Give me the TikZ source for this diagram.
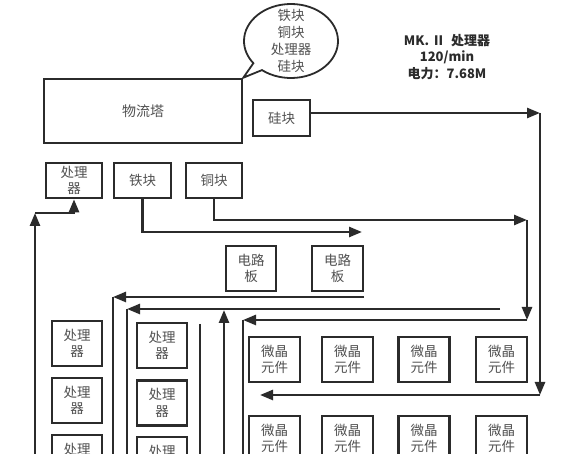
\documentclass[tikz,border=0pt]{standalone}
\usepackage{fontspec}
\setmainfont{Noto Sans CJK SC}
\usetikzlibrary{arrows.meta,shapes.callouts}
\definecolor{ln}{HTML}{2B2B2B}
\definecolor{tx}{HTML}{505050}
\tikzset{
  box/.style={draw=ln, line width=2.6pt, inner sep=0pt, align=center, text=tx,
    font=\fontsize{13.5}{16.5}\selectfont},
  conn/.style={draw=ln, line width=2.5pt},
  arr/.style={conn, -{Triangle[length=13pt,width=10pt]}},
}
\begin{document}
\begin{tikzpicture}[x=1pt,y=-1pt]
\clip (0,0) rectangle (568,454);
\fill[white] (0,0) rectangle (568,454);

% top boxes
\node[box, minimum width=198pt, minimum height=64pt, font=\fontsize{14}{16}\selectfont] (wlt) at (143,111) {物流塔};
\node[box, minimum width=57pt, minimum height=36pt] (gui) at (281.5,118) {硅块};
\node[box, minimum width=56pt, minimum height=35pt] (p0) at (74,180.5) {处理\\器};
\node[box, minimum width=57pt, minimum height=35pt] (tie) at (142.5,180.5) {铁块};
\node[box, minimum width=56pt, minimum height=35pt] (tong) at (214,180.5) {铜块};

% callout
\node[ellipse callout, draw=ln, line width=1.8pt, fill=white, minimum width=94pt, minimum height=74pt,
  callout absolute pointer={(wlt.north east)}] (bub) at (291,41) {};
\node[align=center, text=tx, font=\fontsize{13.5}{17}\selectfont] (bubt) at (bub.center) {铁块\\铜块\\处理器\\硅块};

% title
\node[align=center, text=ln, font=\bfseries\fontsize{13}{16.5}\selectfont] (title) at (447,57)
  {MK.~Ⅱ\ \ 处理器\\120/min\\电力：7.68M};

% circuit boards
\node[box, minimum width=50pt, minimum height=45pt] (dl1) at (251,268.5) {电路\\板};
\node[box, minimum width=51pt, minimum height=45pt] (dl2) at (337.5,268.5) {电路\\板};

% processor columns
\node[box, minimum width=50pt, minimum height=45pt] (pa1) at (77,343.5) {处理\\器};
\node[box, minimum width=50pt, minimum height=45pt] (pa2) at (77,400.5) {处理\\器};
\node[box, minimum width=50pt, minimum height=45pt] (pa3) at (77,457.5) {处理\\器};
\node[box, minimum width=50pt, minimum height=45pt] (pb1) at (162,345.5) {处理\\器};
\node[box, minimum width=50pt, minimum height=45pt] (pb2) at (162,403) {处理\\器};
\node[box, minimum width=50pt, minimum height=45pt] (pb3) at (162,459.5) {处理\\器};

% micro crystal components
\foreach \i/\x in {1/274.5,2/347.5,3/424,4/501.5}{
  \node[box, minimum width=51pt, minimum height=45pt] (ma\i) at (\x,359.5) {微晶\\元件};
  \node[box, minimum width=51pt, minimum height=45pt] (mb\i) at (\x,438.5) {微晶\\元件};
}

% connectors
\coordinate (c1) at (540,113);
\coordinate (c2) at (540,395);
\coordinate (c3) at (260,395);
\draw[arr] (gui.east |- c1) -- (c1);
\draw[arr] (c1) -- (c2);
\draw[arr] (c2) -- (c3);

\coordinate (t1) at (362,232);
\draw[arr] (tie.south) |- (t1);

\coordinate (u1) at (527,220);
\coordinate (u2) at (527,320);
\coordinate (u3) at (243,320);
\coordinate (u4) at (243,456);
\draw[arr] (tong.south) |- (u1);
\draw[arr] (u1) -- (u2);
\draw[arr] (u2) -- (u3);
\draw[conn] (u3) -- (u4);

\coordinate (v0) at (364,297);
\coordinate (v1) at (113,297);
\coordinate (v2) at (113,456);
\draw[arr] (v0) -- (v1);
\draw[conn] (v1) -- (v2);

\coordinate (w0) at (500,309);
\coordinate (w1) at (127,309);
\coordinate (w2) at (127,456);
\draw[arr] (w0) -- (w1);
\draw[conn] (w1) -- (w2);

\coordinate (x0) at (224,456);
\coordinate (x1) at (224,310);
\draw[arr] (x0) -- (x1);

\coordinate (y0) at (200,324);
\coordinate (y1) at (200,456);
\draw[conn] (y0) -- (y1);

\coordinate (z0) at (35,456);
\coordinate (z1) at (35,213);
\draw[arr] (z0) -- (z1);
\draw[arr] (z1) -| (p0.south);
\end{tikzpicture}
\end{document}
